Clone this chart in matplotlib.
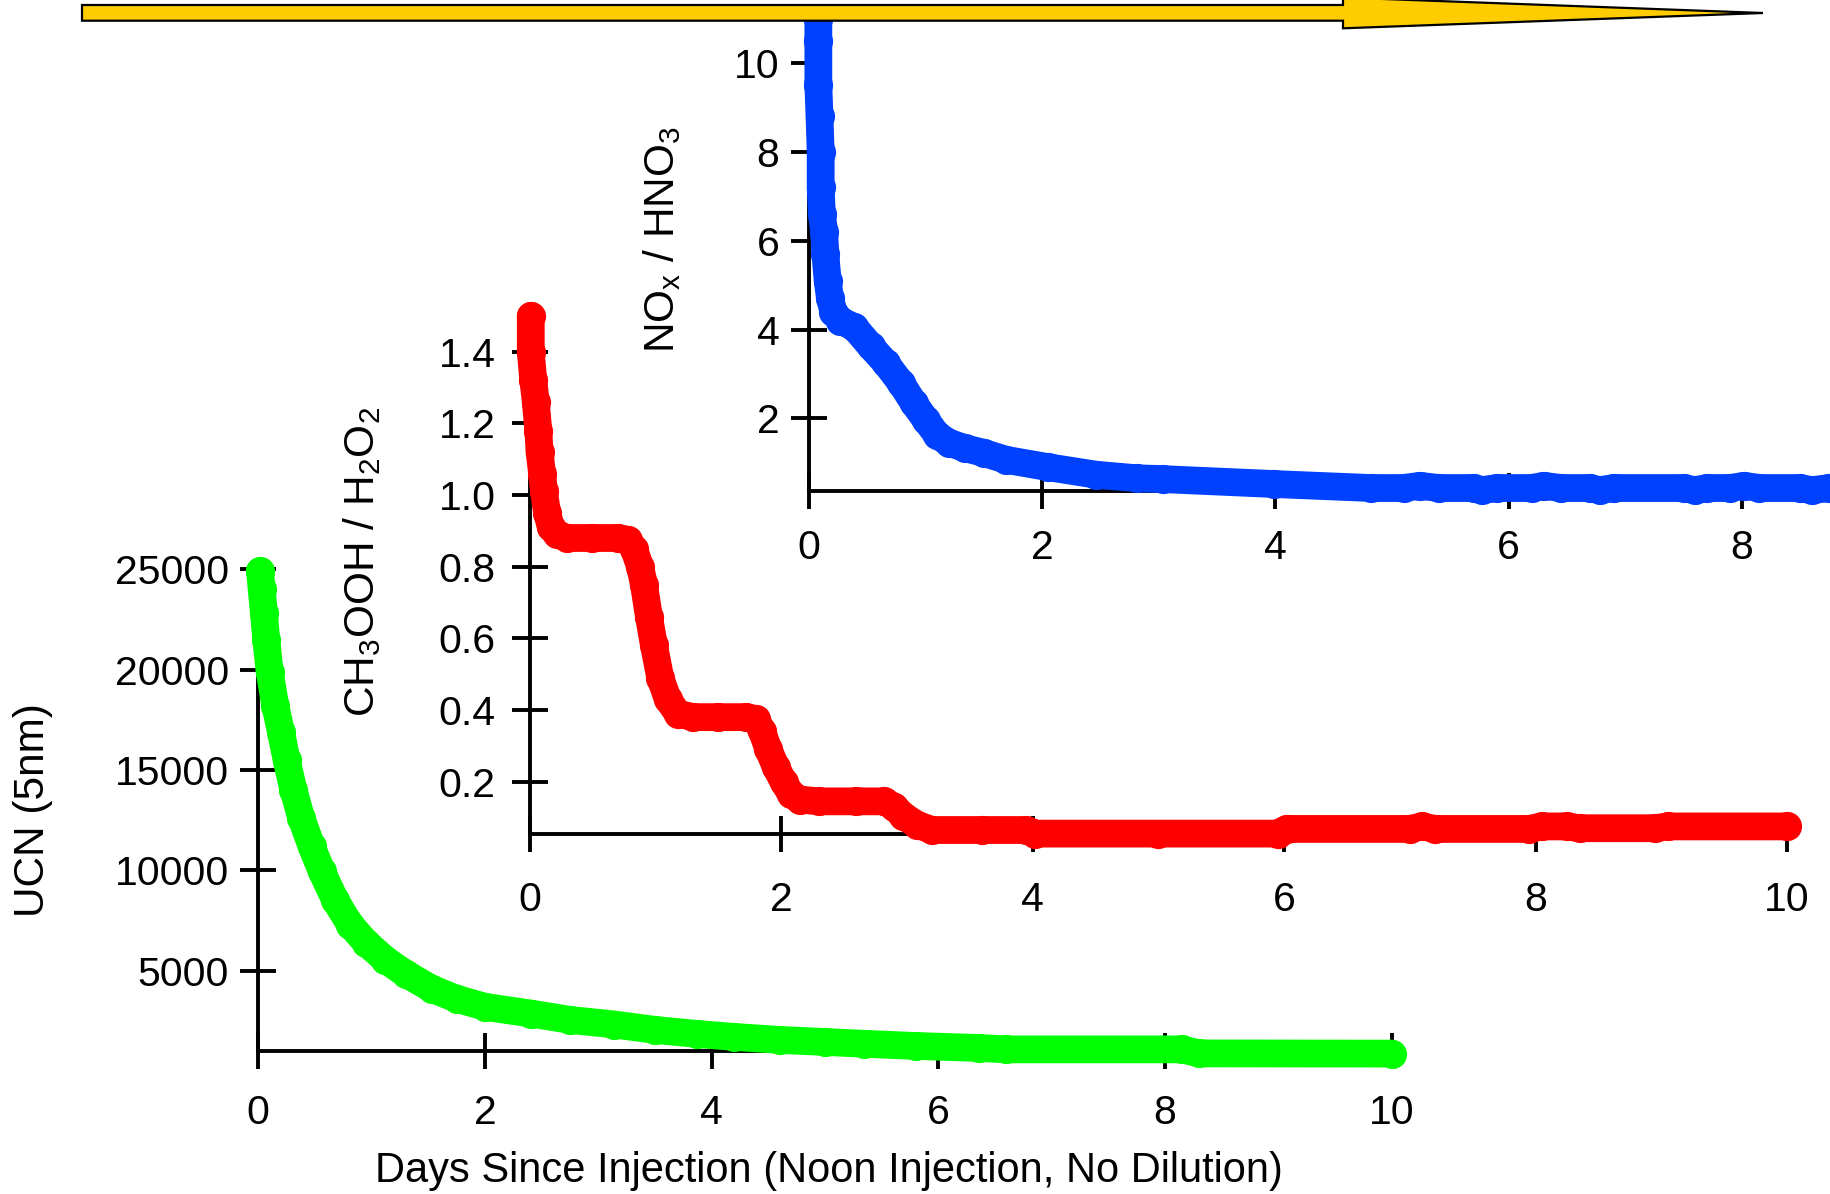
import matplotlib
matplotlib.use("Agg")
import matplotlib.pyplot as plt
from matplotlib.patches import Polygon

plt.rcParams['font.family'] = ['Liberation Sans', 'DejaVu Sans']
plt.rcParams['mathtext.default'] = 'regular'

# ---- UCN (5nm) particle counts ----
days_ucn = [0.015, 0.03, 0.05, 0.07, 0.10, 0.15, 0.20, 0.25, 0.31, 0.38,
            0.47, 0.56, 0.68, 0.81, 0.95, 1.12, 1.30, 1.53, 1.75, 2.0,
            2.41, 2.75, 3.14, 3.5, 3.87, 4.2, 4.6, 5.0, 5.34, 5.8,
            6.36, 6.6, 8.15, 8.3, 10.0]
ucn = [24900, 24000, 22800, 21500, 19900, 18200, 16900, 15500, 14000, 12600,
       11200, 9950, 8500, 7300, 6400, 5550, 4850, 4100, 3600, 3200,
       2860, 2550, 2320, 2050, 1850, 1700, 1550, 1450, 1360, 1250,
       1150, 1080, 1080, 880, 870]

# ---- CH3OOH / H2O2 ratio ----
days_ch3ooh = [0.01, 0.01, 0.03, 0.05, 0.07, 0.08, 0.10, 0.115, 0.14, 0.17,
               0.22, 0.3, 0.5, 0.7, 0.78, 0.83, 0.88, 0.91, 0.95, 0.99,
               1.04, 1.10, 1.18, 1.3, 1.5, 1.72, 1.80, 1.85, 1.90, 1.96,
               2.02, 2.08, 2.15, 2.3, 2.6, 2.82, 2.9, 2.97, 3.08, 3.2,
               3.6, 3.95, 4.02, 5.0, 5.95, 6.02, 7.0, 7.1, 7.2, 7.95,
               8.05, 8.25, 8.35, 8.95, 9.05, 10.0]
ch3ooh_h2o2 = [1.50, 1.40, 1.32, 1.26, 1.18, 1.12, 1.06, 1.01, 0.95, 0.91,
               0.89, 0.88, 0.88, 0.88, 0.875, 0.85, 0.80, 0.75, 0.66, 0.58,
               0.49, 0.43, 0.39, 0.38, 0.38, 0.38, 0.375, 0.34, 0.29, 0.24,
               0.20, 0.165, 0.15, 0.145, 0.145, 0.145, 0.13, 0.105, 0.08, 0.065,
               0.065, 0.065, 0.055, 0.055, 0.055, 0.068, 0.068, 0.075, 0.068, 0.068,
               0.075, 0.075, 0.07, 0.07, 0.075, 0.075]

# ---- NOx / HNO3 ratio ----
days_nox = [0.08, 0.08, 0.08, 0.09, 0.10, 0.10, 0.11, 0.13, 0.14, 0.16,
            0.18, 0.21, 0.27, 0.39, 0.53, 0.66, 0.79, 0.90, 1.00, 1.10,
            1.2, 1.335, 1.5, 1.69, 2.05, 2.46, 2.81, 3.04, 3.99, 4.82,
            5.1, 5.24, 5.4, 5.7, 5.77, 5.9, 6.2, 6.3, 6.45, 6.7,
            6.78, 6.9, 7.5, 7.6, 7.7, 7.9, 8.02, 8.15, 8.5, 8.6,
            8.75, 10.0]
nox_hno3 = [11.0, 10.5, 9.5, 8.8, 8.0, 7.2, 6.6, 6.2, 5.7, 5.1,
            4.7, 4.4, 4.2, 4.05, 3.62, 3.24, 2.79, 2.34, 1.97, 1.62,
            1.45, 1.33, 1.22, 1.065, 0.90, 0.73, 0.65, 0.63, 0.52, 0.43,
            0.43, 0.48, 0.43, 0.43, 0.38, 0.43, 0.43, 0.48, 0.43, 0.43,
            0.38, 0.43, 0.43, 0.38, 0.43, 0.43, 0.48, 0.43, 0.43, 0.38,
            0.43, 0.43]

# ---- tick values ----
day_ticks = [0, 2, 4, 6, 8, 10]
nox_day_ticks = [0, 2, 4, 6, 8]
ucn_ticks = [5000, 10000, 15000, 20000, 25000]
ch3ooh_ticks = [0.2, 0.4, 0.6, 0.8, 1.0, 1.2, 1.4]
nox_ticks = [2, 4, 6, 8, 10]

W, H = 1831, 1194
fig = plt.figure(figsize=(W / 100, H / 100), dpi=100)

TICK_FS = 29.5
LABEL_FS = 30.5
XLABEL_FS = 30
BAND = 20


def style_axes(ax, xpad, ypad):
    ax.set_facecolor('none')
    for side in ('top', 'right'):
        ax.spines[side].set_visible(False)
    for side in ('left', 'bottom'):
        ax.spines[side].set_linewidth(2.8)
    ax.tick_params(axis='both', direction='inout', length=26.5, width=2.8,
                   labelsize=TICK_FS, colors='black')
    ax.tick_params(axis='x', pad=xpad)
    ax.tick_params(axis='y', pad=ypad)


def draw_series(ax, x, y, color):
    ax.plot(x, y, '-', color=color, lw=BAND, solid_capstyle='round',
            solid_joinstyle='round', marker='o', ms=BAND, mec=color, mfc=color,
            clip_on=False, zorder=3)


# UCN panel (front, lower left)
ax_ucn = fig.add_axes([0.14107, 0.11977, 0.61900, 0.40343])
style_axes(ax_ucn, xpad=18, ypad=8)
draw_series(ax_ucn, days_ucn, ucn, '#00FF00')
ax_ucn.set_xlim(0, 10)
ax_ucn.set_ylim(1000, 25000)
ax_ucn.set_xticks(day_ticks)
ax_ucn.set_yticks(ucn_ticks)
ax_ucn.set_yticklabels([str(v) for v in ucn_ticks])

# CH3OOH / H2O2 panel (middle)
ax_ch = fig.add_axes([0.28919, 0.30184, 0.68678, 0.43362])
style_axes(ax_ch, xpad=21, ypad=11)
draw_series(ax_ch, days_ch3ooh, ch3ooh_h2o2, '#FF0000')
ax_ch.set_xlim(0, 10)
ax_ch.set_ylim(0.055, 1.5)
ax_ch.set_xticks(day_ticks)
ax_ch.set_yticks(ch3ooh_ticks)
ax_ch.set_yticklabels([f"{v:.1f}" for v in ch3ooh_ticks])

# NOx / HNO3 panel (back, upper right; runs past the right edge)
ax_no = fig.add_axes([0.44184, 0.58903, 0.63681, 0.39531])
style_axes(ax_no, xpad=14, ypad=8)
draw_series(ax_no, days_nox, nox_hno3, '#0040FF')
ax_no.set_xlim(0, 10)
ax_no.set_ylim(0.37, 11.0)
ax_no.set_xticks(nox_day_ticks)
ax_no.set_yticks(nox_ticks)

# axis titles
fig.text(33 / W, 1 - 810 / H, 'UCN (5nm)', rotation=90, ha='center',
         va='center', fontsize=LABEL_FS)
fig.text(362 / W, 1 - 562 / H, r'CH$_3$OOH / H$_2$O$_2$', rotation=90,
         ha='center', va='center', fontsize=LABEL_FS)
fig.text(662 / W, 1 - 239 / H, r'NO$_x$ / HNO$_3$', rotation=90,
         ha='center', va='center', fontsize=LABEL_FS)
fig.text(829 / W, 1 - 1171 / H,
         'Days Since Injection (Noon Injection, No Dilution)',
         ha='center', va='center', fontsize=XLABEL_FS)

# time arrow across the top
arrow_px = [(82, 5), (1343, 5), (1343, -2.5), (1763, 13), (1343, 28.3),
            (1343, 20.7), (82, 20.7)]
arrow = Polygon([(x / W, 1 - y / H) for x, y in arrow_px], closed=True,
                transform=fig.transFigure, facecolor='#FFCC00',
                edgecolor='black', linewidth=1.6, zorder=10)
fig.add_artist(arrow)

fig.savefig('out.png', dpi=100)
